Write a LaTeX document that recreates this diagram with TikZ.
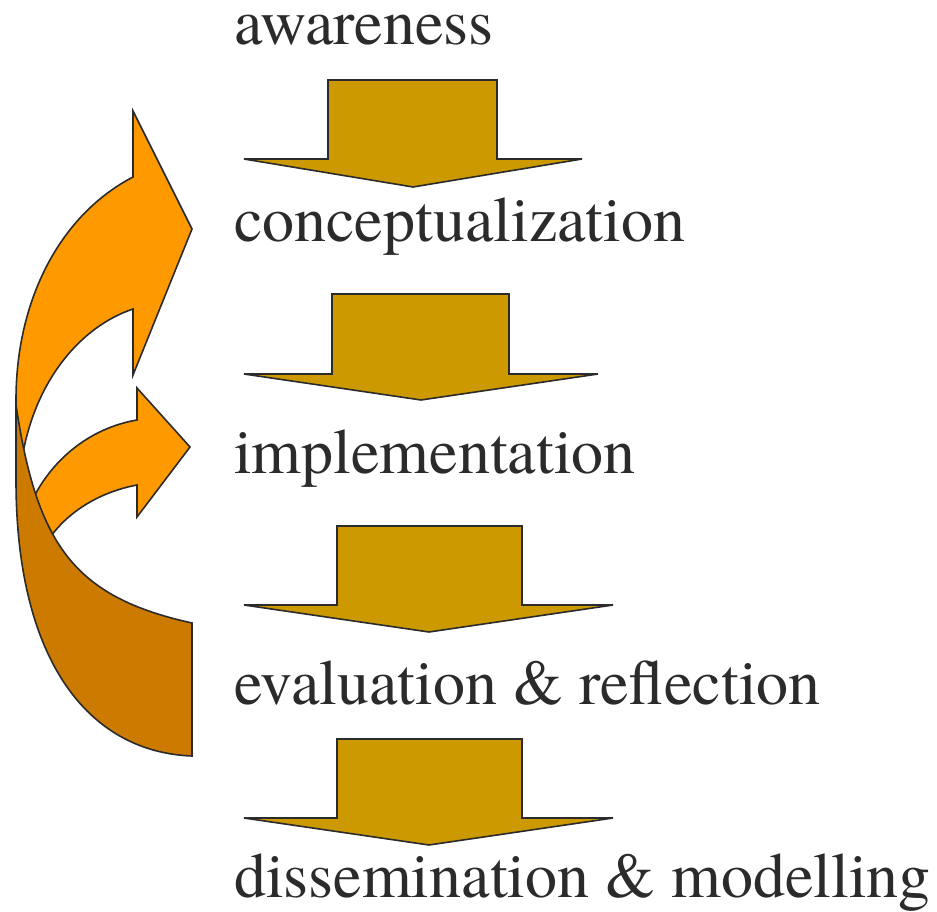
\documentclass[tikz,border=0pt]{standalone}
\usepackage{fontspec}
\newfontfamily\stagefont{texgyretermes}[Extension=.otf,UprightFont=*-regular]
\usepackage{tikz}

\definecolor{gold}{HTML}{CC9900}
\definecolor{lightorange}{HTML}{FF9900}
\definecolor{darkorange}{HTML}{CC7A00}
\definecolor{inkgray}{HTML}{2B2B2B}

\begin{document}
\begin{tikzpicture}[x=1pt,y=-1pt,line join=miter,
	stage/.style={anchor=base west,inner sep=0pt,outer sep=0pt,text=inkgray,font=\stagefont\fontsize{64}{70}\selectfont},
	blockarrow/.style={draw=inkgray,line width=1.6pt,fill=gold},
	frontarrow/.style={draw=inkgray,line width=1.6pt,fill=lightorange},
	backarrow/.style={draw=inkgray,line width=1.6pt,fill=darkorange}]
	\useasboundingbox (0,0) rectangle (937,912);
	% stages
	\node [stage] at (234,45) (Aware) {awareness};
	\node [stage] at (234,242) (Concept) {conceptualization};
	\node [stage] at (234,473) (Implement) {implementation};
	\node [stage] at (234,704) (Evaluate) {evaluation \& reflection};
	\node [stage] at (234,897) (Dissem) {dissemination \& modelling};
	% block arrows between the stages
	\draw [blockarrow] (328,80) -- (497,80) -- (497,159) -- (582,159) -- (413,187) -- (244,159) -- (328,159) -- cycle;
	\draw [blockarrow] (332,294) -- (509,294) -- (509,374) -- (598,374) -- (421,400) -- (244,374) -- (332,374) -- cycle;
	\draw [blockarrow] (337,526) -- (522,526) -- (522,605) -- (613,605) -- (429,632) -- (244,605) -- (337,605) -- cycle;
	\draw [blockarrow] (337,739) -- (522,739) -- (522,818) -- (613,818) -- (429,845) -- (244,818) -- (337,818) -- cycle;
	% feedback arrows
	\draw [frontarrow] (133,177) -- (133,111) -- (192,229) -- (133,375) -- (133,309) .. controls (82,326) and (33,380) .. (21,465) -- (16,480) -- (16,400) .. controls (16,300) and (60,215) .. (133,177) -- cycle;
	\draw [frontarrow] (137,420) -- (137,388) -- (190,447) -- (137,517) -- (137,485) .. controls (100,492) and (65,512) .. (45,545) -- (30,505) .. controls (50,460) and (90,428) .. (137,420) -- cycle;
	\draw [backarrow] (16,405) -- (16,480) .. controls (16,660) and (88,752) .. (192,756) -- (192,623) .. controls (74,597) and (37,545) .. (16,405) -- cycle;
\end{tikzpicture}
\end{document}
